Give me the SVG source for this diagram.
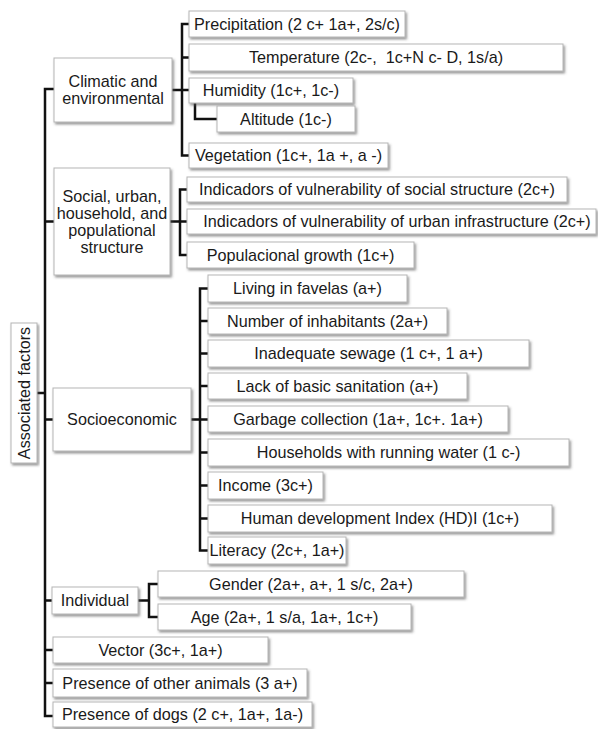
<svg xmlns="http://www.w3.org/2000/svg" width="598" height="729" viewBox="0 0 598 729">
<defs>
<filter id="sh" x="-10%" y="-20%" width="120%" height="160%">
<feDropShadow dx="1.5" dy="2" stdDeviation="1" flood-color="#555" flood-opacity="0.6"/>
</filter>
</defs>
<style>
.b{fill:#fff;stroke:#b5b5b5;stroke-width:1;filter:url(#sh)}
.t{font-family:"Liberation Sans",Arial,sans-serif;font-size:16.2px;fill:#1a1a1a;text-anchor:middle}
.c{fill:none;stroke:#111;stroke-width:2.5}
</style>
<rect width="598" height="729" fill="#fff"/>
<g id="connectors">
<path class="c" d="M54,89 H45 V716 H53"/>
<path class="c" d="M45,221.5 H54 M45,419.5 H53 M45,600.5 H52 M45,650 H53 M45,683 H53"/>
<path class="c" d="M37,393 H45"/>
<path class="c" d="M172,90 H189 M189,24 H182 V155.5 H189 M182,57.5 H189"/>
<path class="c" d="M195,103 V119 H217"/>
<path class="c" d="M170,221.5 H187 M187,189.5 H180 V255 H187"/>
<path class="c" d="M191,419.5 H208 M208,288.5 H200 V550.5 H208 M200,321 H208 M200,353.5 H208 M200,386 H208 M200,452.5 H208 M200,485.5 H208 M200,518.5 H208"/>
<path class="c" d="M138,600.5 H149 M158,584 H149 V617 H158"/>
</g>
<g id="associated"><rect class="b" x="11" y="323" width="26" height="140"/><text class="t" transform="translate(29.5,393) rotate(-90)">Associated factors</text></g>
<g id="climatic"><rect class="b" x="54" y="58" width="118" height="64"/><text class="t" x="113" y="87">Climatic and</text><text class="t" x="113" y="104">environmental</text></g>
<g id="social"><rect class="b" x="54" y="168" width="116" height="107"/><text class="t" x="112" y="201.5">Social, urban,</text><text class="t" x="112" y="218.5">household, and</text><text class="t" x="112" y="235.5">populational</text><text class="t" x="112" y="252.5">structure</text></g>
<g id="socioeconomic"><rect class="b" x="53" y="388" width="138" height="63"/><text class="t" x="122" y="425">Socioeconomic</text></g>
<g id="individual"><rect class="b" x="52" y="587" width="86" height="27"/><text class="t" x="95" y="606">Individual</text></g>
<g id="precipitation"><rect class="b" x="189" y="11" width="216" height="26"/><text class="t" x="297" y="29.5">Precipitation (2 c+ 1a+, 2s/c)</text></g>
<g id="temperature"><rect class="b" x="189" y="44" width="374" height="27"/><text class="t" x="376" y="63" xml:space="preserve">Temperature (2c-,  1c+N c- D, 1s/a)</text></g>
<g id="humidity"><rect class="b" x="189" y="78" width="164" height="25"/><text class="t" x="271" y="96">Humidity (1c+, 1c-)</text></g>
<g id="altitude"><rect class="b" x="217" y="106" width="138" height="26"/><text class="t" x="286" y="124.5">Altitude (1c-)</text></g>
<g id="vegetation"><rect class="b" x="189" y="143" width="199" height="25"/><text class="t" x="288.5" y="161">Vegetation (1c+, 1a +, a -)</text></g>
<g id="ind-social"><rect class="b" x="187" y="177" width="380" height="25"/><text class="t" x="377" y="195">Indicadors of vulnerability of social structure (2c+)</text></g>
<g id="ind-urban"><rect class="b" x="187" y="209" width="409" height="25"/><text class="t" x="397" y="227">Indicadors of vulnerability of urban infrastructure (2c+)</text></g>
<g id="populacional"><rect class="b" x="187" y="242" width="227" height="26"/><text class="t" x="300.5" y="260.5">Populacional growth (1c+)</text></g>
<g id="favelas"><rect class="b" x="208" y="275" width="199" height="27"/><text class="t" x="307.5" y="294">Living in favelas (a+)</text></g>
<g id="inhabitants"><rect class="b" x="208" y="308" width="239" height="26"/><text class="t" x="327.5" y="326.5">Number of inhabitants (2a+)</text></g>
<g id="sewage"><rect class="b" x="208" y="340" width="321" height="27"/><text class="t" x="368.5" y="359">Inadequate sewage (1 c+, 1 a+)</text></g>
<g id="sanitation"><rect class="b" x="208" y="373" width="259" height="26"/><text class="t" x="337.5" y="391.5">Lack of basic sanitation (a+)</text></g>
<g id="garbage"><rect class="b" x="208" y="406" width="300" height="26"/><text class="t" x="358" y="424.5">Garbage collection (1a+, 1c+. 1a+)</text></g>
<g id="water"><rect class="b" x="208" y="439" width="361" height="27"/><text class="t" x="388.5" y="458">Households with running water (1 c-)</text></g>
<g id="income"><rect class="b" x="208" y="472" width="115" height="27"/><text class="t" x="265.5" y="491">Income (3c+)</text></g>
<g id="hdi"><rect class="b" x="208" y="505" width="344" height="27"/><text class="t" x="380" y="524">Human development Index (HD)I (1c+)</text></g>
<g id="literacy"><rect class="b" x="208" y="537" width="138" height="27"/><text class="t" x="277" y="556">Literacy (2c+, 1a+)</text></g>
<g id="gender"><rect class="b" x="158" y="571" width="306" height="26"/><text class="t" x="311" y="589.5">Gender (2a+, a+, 1 s/c, 2a+)</text></g>
<g id="age"><rect class="b" x="158" y="604" width="253" height="26"/><text class="t" x="284.5" y="622.5">Age (2a+, 1 s/a, 1a+, 1c+)</text></g>
<g id="vector"><rect class="b" x="53" y="637" width="215" height="26"/><text class="t" x="160.5" y="655.5">Vector (3c+, 1a+)</text></g>
<g id="animals"><rect class="b" x="53" y="669" width="254" height="28"/><text class="t" x="180" y="688.5">Presence of other animals (3 a+)</text></g>
<g id="dogs"><rect class="b" x="53" y="702" width="259" height="25"/><text class="t" x="182.5" y="720">Presence of dogs (2 c+, 1a+, 1a-)</text></g>
</svg>
